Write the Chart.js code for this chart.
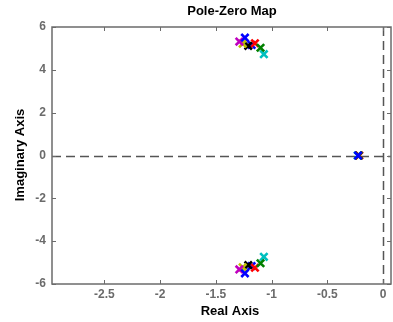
<!DOCTYPE html>
<html>
<head>
<meta charset="utf-8">
<script src="https://cdn.jsdelivr.net/npm/chart.js@4.4.1/dist/chart.umd.min.js"></script>
<style>
  html, body { margin: 0; padding: 0; background: #fff; }
  #wrap { width: 393px; height: 322px; }
</style>
</head>
<body>
<div id="wrap"><canvas id="pzChart" width="393" height="322"></canvas></div>
<script>
// pole data: 8 systems, each a complex pair plus one real pole
const systemColors = ['#0000ff', '#008000', '#ff0000', '#00bfbf', '#bf00bf', '#bfbf00', '#000000', '#0000ff'];
const pairReal = [-1.24, -1.10, -1.15, -1.07, -1.29, -1.26, -1.21, -1.18];
const pairImag = [5.50, 5.03, 5.24, 4.73, 5.32, 5.22, 5.12, 5.16];
const realPole = [-0.225, -0.22, -0.215, -0.228, -0.222, -0.22, -0.22, -0.224];
const xTicks = [-2.5, -2, -1.5, -1, -0.5, 0];
const yTicks = [-6, -4, -2, 0, 2, 4, 6];

const FONT = "'Liberation Sans', Arial, sans-serif";
const GREY = '#6b6b6b';

const datasets = systemColors.map((c, i) => ({
  label: 'sys' + (i + 1),
  data: [
    {x: pairReal[i], y: pairImag[i]},
    {x: pairReal[i], y: -pairImag[i]},
    {x: realPole[i], y: 0}
  ],
  pointStyle: 'crossRot',
  pointRadius: 5.2,
  pointBorderWidth: 2.6,
  borderColor: c,
  backgroundColor: c,
  showLine: false
}));

// matlab style box: dashed zero lines, inward ticks, titles
const framePlugin = {
  id: 'framePlugin',
  beforeDatasetsDraw(chart) {
    const {ctx, chartArea: a, scales: {x, y}} = chart;
    ctx.save();
    ctx.strokeStyle = '#555';
    ctx.lineWidth = 1.5;
    ctx.setLineDash([9, 5]);
    const y0 = Math.round(y.getPixelForValue(0)) + 0.5;
    ctx.beginPath(); ctx.moveTo(a.left, y0); ctx.lineTo(a.right, y0); ctx.stroke();
    const x0 = Math.round(x.getPixelForValue(0)) + 0.5;
    ctx.beginPath(); ctx.moveTo(x0, a.top); ctx.lineTo(x0, a.bottom); ctx.stroke();
    ctx.restore();
  },
  afterDatasetsDraw(chart) {
    const {ctx, chartArea: a, scales: {x, y}} = chart;
    ctx.save();
    ctx.strokeStyle = GREY;
    ctx.lineWidth = 1.5;
    ctx.strokeRect(a.left, a.top, a.right - a.left, a.bottom - a.top);
    ctx.lineWidth = 1;
    ctx.beginPath();
    xTicks.forEach(v => {
      const px = Math.round(x.getPixelForValue(v)) + 0.5;
      ctx.moveTo(px, a.bottom); ctx.lineTo(px, a.bottom - 4);
      ctx.moveTo(px, a.top); ctx.lineTo(px, a.top + 4);
    });
    yTicks.forEach(v => {
      const py = Math.round(y.getPixelForValue(v)) + 0.5;
      ctx.moveTo(a.left, py); ctx.lineTo(a.left + 4, py);
      ctx.moveTo(a.right, py); ctx.lineTo(a.right - 4, py);
    });
    ctx.stroke();

    ctx.fillStyle = '#000';
    ctx.font = 'bold 13px ' + FONT;
    ctx.textAlign = 'center';
    ctx.textBaseline = 'middle';
    ctx.fillText('Pole-Zero Map', 232, 11);
    ctx.fillText('Real Axis', 230, 311);
    ctx.translate(20, 155);
    ctx.rotate(-Math.PI / 2);
    ctx.fillText('Imaginary Axis', 0, 0);
    ctx.restore();
  }
};

new Chart(document.getElementById('pzChart'), {
  type: 'scatter',
  data: { datasets },
  options: {
    responsive: false,
    animation: false,
    layout: { autoPadding: false, padding: { top: 27, right: 2, left: 0, bottom: 0 } },
    plugins: { legend: { display: false }, tooltip: { enabled: false } },
    scales: {
      x: {
        type: 'linear',
        min: -2.97,
        max: 0.07,
        afterBuildTicks: s => { s.ticks = xTicks.map(v => ({value: v})); },
        afterFit: s => { s.height = 38; },
        grid: { display: false, drawTicks: false },
        border: { display: false },
        ticks: {
          color: GREY,
          font: { family: FONT, size: 12, weight: 'bold' },
          padding: 3,
          maxRotation: 0,
          callback: v => String(v)
        }
      },
      y: {
        type: 'linear',
        min: -6,
        max: 6,
        afterBuildTicks: s => { s.ticks = yTicks.map(v => ({value: v})); },
        afterFit: s => { s.width = 52; },
        grid: { display: false, drawTicks: false },
        border: { display: false },
        ticks: {
          color: GREY,
          font: { family: FONT, size: 12, weight: 'bold' },
          padding: 6,
          callback: v => String(v)
        }
      }
    }
  },
  plugins: [framePlugin]
});
</script>
</body>
</html>
